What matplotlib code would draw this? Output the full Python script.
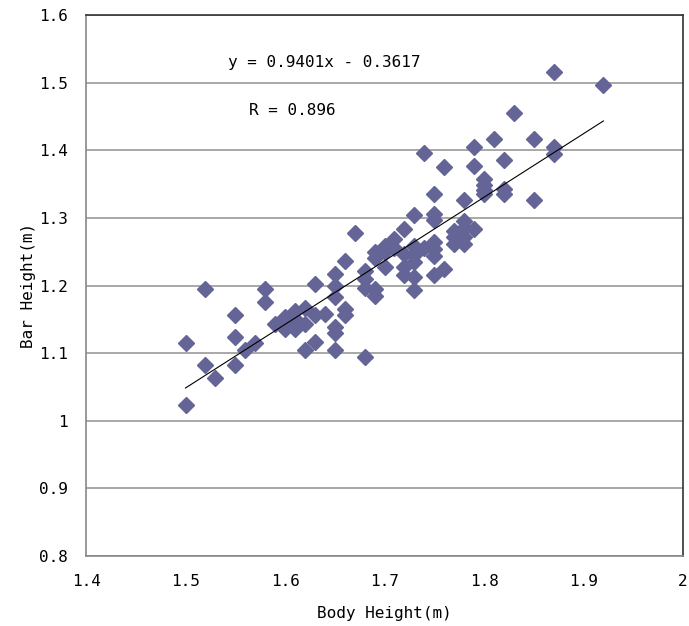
import matplotlib
matplotlib.use("Agg")

import matplotlib.pyplot as plt
import numpy as np

# body height (m) vs bar height (m)
body_height = [
    1.50, 1.50, 1.52, 1.52, 1.53, 1.55, 1.55, 1.55, 1.56, 1.57,
    1.58, 1.58, 1.59, 1.60, 1.60, 1.61, 1.61, 1.62, 1.62, 1.61,
    1.60, 1.63, 1.64, 1.65, 1.65, 1.66, 1.66, 1.62, 1.63, 1.65,
    1.68, 1.63, 1.65, 1.65, 1.65, 1.66, 1.68, 1.68, 1.69, 1.69,
    1.68, 1.67, 1.69, 1.69, 1.70, 1.70, 1.70, 1.71, 1.71, 1.72,
    1.72, 1.72, 1.72, 1.73, 1.73, 1.73, 1.73, 1.73, 1.73, 1.74,
    1.74, 1.75, 1.75, 1.75, 1.75, 1.75, 1.75, 1.75, 1.76, 1.76,
    1.77, 1.77, 1.77, 1.78, 1.78, 1.78, 1.78, 1.78, 1.79, 1.79,
    1.79, 1.80, 1.80, 1.80, 1.80, 1.81, 1.82, 1.82, 1.82, 1.83,
    1.85, 1.85, 1.87, 1.87, 1.87, 1.92,
]
bar_height = [
    1.115, 1.023, 1.195, 1.083, 1.063, 1.156, 1.124, 1.083, 1.105, 1.115,
    1.195, 1.175, 1.143, 1.153, 1.136, 1.163, 1.136, 1.166, 1.143, 1.150,
    1.145, 1.156, 1.158, 1.138, 1.130, 1.165, 1.156, 1.104, 1.116, 1.104,
    1.095, 1.202, 1.217, 1.200, 1.183, 1.236, 1.222, 1.197, 1.185, 1.195,
    1.210, 1.277, 1.249, 1.240, 1.259, 1.227, 1.250, 1.269, 1.255, 1.284,
    1.247, 1.227, 1.215, 1.304, 1.259, 1.235, 1.212, 1.193, 1.245, 1.396,
    1.256, 1.336, 1.306, 1.297, 1.264, 1.254, 1.215, 1.244, 1.375, 1.225,
    1.272, 1.281, 1.262, 1.326, 1.296, 1.272, 1.262, 1.285, 1.405, 1.376,
    1.284, 1.358, 1.348, 1.341, 1.335, 1.416, 1.385, 1.343, 1.335, 1.455,
    1.416, 1.326, 1.516, 1.405, 1.395, 1.496,
]

SLOPE = 0.9401
INTERCEPT = -0.3617
R_VALUE = 0.896

MARKER_COLOR = "#646496"
FONT = "DejaVu Sans Mono"

plt.rcParams["font.family"] = FONT
plt.rcParams["font.size"] = 11.5

fig = plt.figure(figsize=(6.89, 6.26), dpi=100)
ax = fig.add_axes([86 / 689, 1 - 556 / 626, 597 / 689, 541 / 626])

x = np.array(body_height)
y = np.array(bar_height)

ax.yaxis.grid(True, color="#999999", linewidth=1.2)
ax.set_axisbelow(True)

ax.plot(x, y, linestyle="none", marker="D", markersize=7.8,
        markerfacecolor=MARKER_COLOR, markeredgecolor=MARKER_COLOR, zorder=3)

# trend line over the data range
xl = np.array([x.min(), x.max()])
ax.plot(xl, SLOPE * xl + INTERCEPT, color="black", linewidth=0.8, zorder=4)

ax.set_xlim(1.4, 2.0)
ax.set_ylim(0.8, 1.6)
ax.set_xticks([1.4, 1.5, 1.6, 1.7, 1.8, 1.9, 2.0])
ax.set_xticklabels(["1.4", "1.5", "1.6", "1.7", "1.8", "1.9", "2"])
ax.set_yticks([0.8, 0.9, 1.0, 1.1, 1.2, 1.3, 1.4, 1.5, 1.6])
ax.set_yticklabels(["0.8", "0.9", "1", "1.1", "1.2", "1.3", "1.4", "1.5", "1.6"])
ax.tick_params(length=0)
ax.tick_params(axis="x", pad=13)
ax.tick_params(axis="y", pad=13)

for side in ["left", "bottom"]:
    ax.spines[side].set_color("#888888")
    ax.spines[side].set_linewidth(1.2)
for side in ["right", "top"]:
    ax.spines[side].set_color("#333333")
    ax.spines[side].set_linewidth(1.2)

sign = "-" if INTERCEPT < 0 else "+"
ax.text(1.543, 1.530, f"y = {SLOPE:.4f}x {sign} {abs(INTERCEPT):.4f}", ha="left", va="center")
ax.text(1.564, 1.459, f"R = {R_VALUE:.3f}", ha="left", va="center")

ax.set_xlabel("Body Height(m)", labelpad=12)
ax.set_ylabel("Bar Height(m)", labelpad=2)

fig.savefig("out.png", dpi=100)
